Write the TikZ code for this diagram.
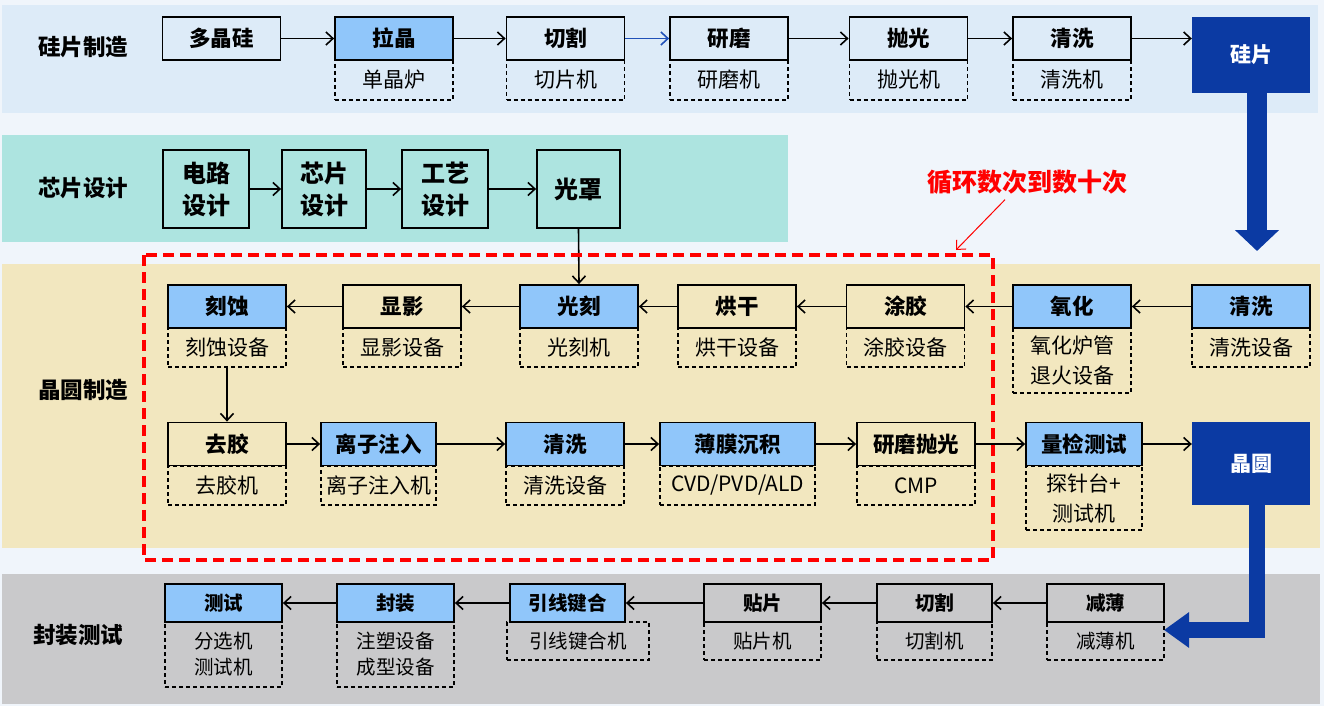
\documentclass[tikz,border=0pt]{standalone}
\usepackage{fontspec}
\setmainfont{Noto Sans CJK SC}
\usetikzlibrary{arrows.meta}

\definecolor{page_bg}{HTML}{F0F5FB}
\definecolor{band_si}{HTML}{DDEBF8}
\definecolor{band_ic}{HTML}{ADE4E0}
\definecolor{band_fab}{HTML}{F2E7BF}
\definecolor{band_pkg}{HTML}{C9C9CB}
\definecolor{key_blue}{HTML}{90C6FA}
\definecolor{deep_blue}{HTML}{0B3AA3}
\definecolor{flow_blue}{HTML}{2050B8}

\begin{document}
\begin{tikzpicture}[x=1pt, y=-1pt, >={Straight Barb[length=7pt, width=13pt]}]
\useasboundingbox (0,0) rectangle (1324,706);
\fill[page_bg] (0,0) rectangle (1324,706);

% Stage bands
\fill[band_si] (2,5) rectangle (1318,113);
\fill[band_ic] (2,135) rectangle (788,242);
\fill[band_fab] (2,264) rectangle (1320,548);
\fill[band_pkg] (2,574) rectangle (1320,704);

\tikzstyle{proc_node} = [rectangle, draw=black, line width=1.8pt, minimum width=118pt, minimum height=43pt, inner sep=0pt, align=center, font=\bfseries\fontsize{21.5}{32}\selectfont]
\tikzstyle{tool_node} = [rectangle, draw=black, dash pattern=on 4pt off 3pt, line width=1.4pt, minimum width=118pt, minimum height=40pt, inner sep=0pt, align=center, font=\fontsize{21}{30}\selectfont]
\tikzstyle{pkg_proc} = [proc_node, minimum height=38pt, font=\bfseries\fontsize{19.5}{24}\selectfont]
\tikzstyle{pkg_tool} = [tool_node, fill=band_pkg, minimum height=38pt, font=\fontsize{19.5}{26}\selectfont]
\tikzstyle{out_node} = [rectangle, fill=deep_blue, text=white, minimum width=118pt, inner sep=0pt, font=\bfseries\fontsize{21}{24}\selectfont]
\tikzstyle{stage_label} = [font=\bfseries\fontsize{22.5}{26}\selectfont]
\tikzstyle{flow} = [->, line width=1.6pt]

% Stage labels
\node[stage_label] (si_label) at (83,47) {硅片制造};
\node[stage_label] (ic_label) at (83,188) {芯片设计};
\node[stage_label] (fab_label) at (83,390) {晶圆制造};
\node[stage_label] (pkg_label) at (78,635) {封装测试};

% Silicon wafer making
\node[tool_node, fill=band_si] (lj_tool) at (394,80) {单晶炉};
\node[tool_node, fill=band_si] (qg_tool) at (565.5,80) {切片机};
\node[tool_node, fill=band_si] (ym_tool) at (729,80) {研磨机};
\node[tool_node, fill=band_si] (pg_tool) at (908.5,80) {抛光机};
\node[tool_node, fill=band_si] (qx_tool) at (1072,80) {清洗机};

\node[proc_node, fill=band_si] (poly) at (221.5,38.5) {多晶硅};
\node[proc_node, fill=key_blue] (lj) at (394,38.5) {拉晶};
\node[proc_node, fill=band_si] (qg) at (565.5,38.5) {切割};
\node[proc_node, fill=band_si] (ym) at (729,38.5) {研磨};
\node[proc_node, fill=band_si] (pg) at (908.5,38.5) {抛光};
\node[proc_node, fill=band_si] (qx) at (1072,38.5) {清洗};
\node[out_node, minimum height=76pt] (wafer_si) at (1251,55) {硅片};

\draw[flow] (poly) -- (lj);
\draw[flow] (lj) -- (qg);
\draw[flow, flow_blue] (qg) -- (ym);
\draw[flow] (ym) -- (pg);
\draw[flow] (pg) -- (qx);
\draw[flow] (qx.east) -- (qx.east -| wafer_si.west);

% Big arrow down to oxidation
\coordinate (si_tip) at (1257,251);
\draw[line width=20pt, deep_blue, -{Triangle[length=21pt, width=43pt]}] ([xshift=6pt]wafer_si.south) -- (si_tip);

% Chip design
\node[proc_node, fill=band_ic, minimum width=86pt, minimum height=78pt, font=\bfseries\fontsize{24}{32}\selectfont] (circuit) at (206,189) {电路\\设计};
\node[proc_node, fill=band_ic, minimum width=84pt, minimum height=78pt, font=\bfseries\fontsize{24}{32}\selectfont] (chip) at (324,189) {芯片\\设计};
\node[proc_node, fill=band_ic, minimum width=86pt, minimum height=78pt, font=\bfseries\fontsize{24}{32}\selectfont] (process) at (445,189) {工艺\\设计};
\node[proc_node, fill=band_ic, minimum width=83pt, minimum height=78pt, font=\bfseries\fontsize{24}{32}\selectfont] (mask) at (578.5,189) {光罩};

\draw[flow] (circuit) -- (chip);
\draw[flow] (chip) -- (process);
\draw[flow] (process) -- (mask);

% Wafer fab, upper row
\node[tool_node, fill=band_fab, minimum height=39pt] (ks_tool) at (227,347.5) {刻蚀设备};
\node[tool_node, fill=band_fab, minimum height=39pt] (xy_tool) at (402,347.5) {显影设备};
\node[tool_node, fill=band_fab, minimum height=39pt] (gk_tool) at (579,347.5) {光刻机};
\node[tool_node, fill=band_fab, minimum height=39pt] (hg_tool) at (737,347.5) {烘干设备};
\node[tool_node, fill=band_fab, minimum height=39pt] (tj_tool) at (905.5,347.5) {涂胶设备};
\node[tool_node, fill=band_fab, minimum height=65pt] (yh_tool) at (1072,360.5) {氧化炉管\\退火设备};
\node[tool_node, fill=band_fab, minimum height=39pt] (qx2_tool) at (1251,347.5) {清洗设备};

\node[proc_node, fill=key_blue] (ks) at (227,306.5) {刻蚀};
\node[proc_node, fill=band_fab] (xy) at (402,306.5) {显影};
\node[proc_node, fill=key_blue] (gk) at (579,306.5) {光刻};
\node[proc_node, fill=band_fab] (hg) at (737,306.5) {烘干};
\node[proc_node, fill=band_fab] (tj) at (905.5,306.5) {涂胶};
\node[proc_node, fill=key_blue] (yh) at (1072,306.5) {氧化};
\node[proc_node, fill=key_blue] (qx2) at (1251,306.5) {清洗};

\draw[flow] (mask.south) -- (gk.north);
\draw[flow] (qx2) -- (yh);
\draw[flow] (yh) -- (tj);
\draw[flow] (tj) -- (hg);
\draw[flow] (hg) -- (gk);
\draw[flow] (gk) -- (xy);
\draw[flow] (xy) -- (ks);

% Wafer fab, lower row
\node[tool_node, fill=band_fab, minimum height=39pt] (qj_tool) at (227,485.5) {去胶机};
\node[tool_node, fill=band_fab, minimum height=39pt, minimum width=115pt] (lz_tool) at (378.5,485.5) {离子注入机};
\node[tool_node, fill=band_fab, minimum height=39pt] (qx3_tool) at (565,485.5) {清洗设备};
\node[tool_node, fill=band_fab, minimum height=39pt, minimum width=155pt] (bm_tool) at (737.5,485.5) {CVD/PVD/ALD};
\node[tool_node, fill=band_fab, minimum height=39pt] (cmp_tool) at (916,485.5) {CMP};
\node[tool_node, fill=band_fab, minimum height=64pt, minimum width=116pt] (lc_tool) at (1084,498) {探针台+\\测试机};

\node[proc_node, fill=band_fab] (qj) at (227,444) {去胶};
\node[proc_node, fill=key_blue, minimum width=115pt] (lz) at (378.5,444) {离子注入};
\node[proc_node, fill=key_blue] (qx3) at (565,444) {清洗};
\node[proc_node, fill=key_blue, minimum width=155pt] (bm) at (737.5,444) {薄膜沉积};
\node[proc_node, fill=band_fab] (cmp) at (916,444) {研磨抛光};
\node[proc_node, fill=key_blue, minimum width=116pt] (lc) at (1084,444) {量检测试};
\node[out_node, minimum height=83pt] (wafer_done) at (1251,463.5) {晶圆};

\draw[flow] (ks_tool.south) -- (qj.north);
\draw[flow] (qj) -- (lz);
\draw[flow] (lz) -- (qx3);
\draw[flow] (qx3) -- (bm);
\draw[flow] (bm) -- (cmp);
\draw[flow] (cmp) -- (lc);
\draw[flow] (lc.east) -- (lc.east -| wafer_done.west);

% Big arrow down to packaging
\coordinate (pkg_tip) at (1164,630);
\draw[line width=16pt, deep_blue, -{Triangle[length=25pt, width=34pt]}] ([xshift=6pt]wafer_done.south) |- (pkg_tip);

% Loop note
\node[text=red, font=\bfseries\fontsize{25}{28}\selectfont] (loop_note) at (1027,182) {循环数次到数十次};
\coordinate (loop_tip) at (956,250);
\draw[->, red, line width=1pt] ([xshift=-22pt, yshift=-2pt]loop_note.south) -- (loop_tip);
\draw[red, line width=3.5pt, dash pattern=on 11pt off 6pt] (144,255) rectangle (993,560);

% Packaging and test
\node[pkg_tool, minimum height=65pt, minimum width=117pt] (cs_tool) at (223.5,654.5) {分选机\\测试机};
\node[pkg_tool, minimum height=65pt, minimum width=117pt] (fz_tool) at (395.5,654.5) {注塑设备\\成型设备};
\node[pkg_tool, minimum width=142pt] (yx_tool) at (578,641) {引线键合机};
\node[pkg_tool, minimum width=117pt] (tp_tool) at (762.5,641) {贴片机};
\node[pkg_tool, minimum width=115pt] (qg2_tool) at (934.5,641) {切割机};
\node[pkg_tool, minimum width=117pt] (jb_tool) at (1105.5,641) {减薄机};

\node[pkg_proc, fill=key_blue, minimum width=117pt] (cs) at (223.5,603) {测试};
\node[pkg_proc, fill=key_blue, minimum width=117pt] (fz) at (395.5,603) {封装};
\node[pkg_proc, fill=key_blue, minimum width=115pt] (yx) at (567.5,603) {引线键合};
\node[pkg_proc, fill=band_pkg, minimum width=117pt] (tp) at (762.5,603) {贴片};
\node[pkg_proc, fill=band_pkg, minimum width=115pt] (qg2) at (934.5,603) {切割};
\node[pkg_proc, fill=band_pkg, minimum width=117pt] (jb) at (1105.5,603) {减薄};

\draw[flow] (jb) -- (qg2);
\draw[flow] (qg2) -- (tp);
\draw[flow] (tp) -- (yx);
\draw[flow] (yx) -- (fz);
\draw[flow] (fz) -- (cs);
\end{tikzpicture}
\end{document}
